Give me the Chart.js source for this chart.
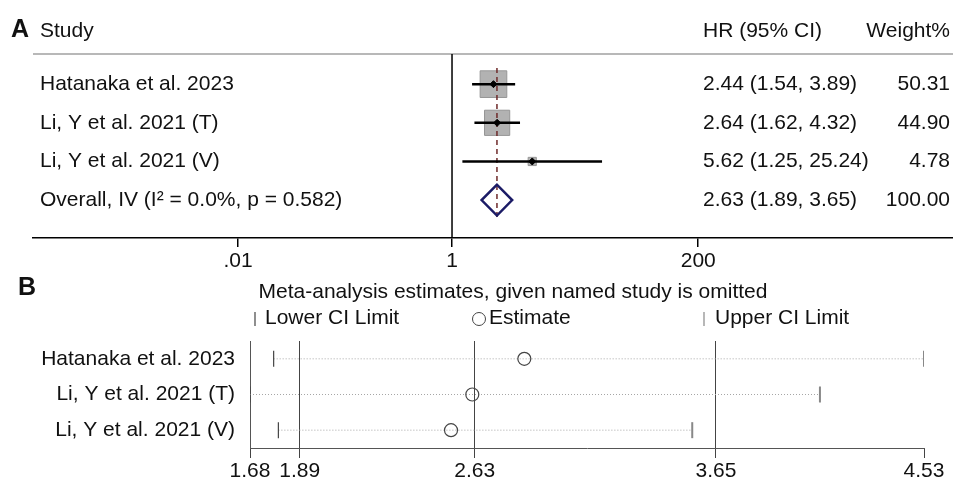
<!DOCTYPE html>
<html>
<head>
<meta charset="utf-8">
<script src="https://cdn.jsdelivr.net/npm/chart.js@4.4.0/dist/chart.umd.min.js"></script>
<style>
  body { margin: 0; background: #fff; }
  #wrap { position: relative; width: 953px; height: 480px; }
  canvas { position: absolute; left: 0; }
  #forest { top: 0; }
  #loo { top: 270px; }
</style>
</head>
<body>
<div id="wrap">
  <canvas id="forest" width="953" height="275"></canvas>
  <canvas id="loo" width="953" height="210"></canvas>
</div>
<script>
// Study-level hazard ratios
const studies = ['Hatanaka et al. 2023', 'Li, Y et al. 2021 (T)', 'Li, Y et al. 2021 (V)'];
const hr = [2.44, 2.64, 5.62];
const hrLow = [1.54, 1.62, 1.25];
const hrHigh = [3.89, 4.32, 25.24];
const weights = [50.31, 44.90, 4.78];

// Pooled (inverse variance) estimate
const overallLabel = 'Overall, IV (I\u00B2 = 0.0%, p = 0.582)';
const overallHR = 2.63;
const overallLow = 1.89;
const overallHigh = 3.65;
const overallWeight = 100.00;

const forestTicks = [0.01, 1, 200];
const forestTickLabels = ['.01', '1', '200'];

// Leave-one-out: pooled estimate when each study is dropped
const looEst = [2.84, 2.62, 2.53];
const looLow = [1.78, 1.68, 1.80];
const looHigh = [4.53, 4.09, 3.55];
const looTicks = [1.68, 1.89, 2.63, 3.65, 4.53];

const FONT = '"Liberation Sans", Arial, Helvetica, sans-serif';
Chart.defaults.font.family = FONT;
Chart.defaults.font.size = 21;
Chart.defaults.color = '#111';

const fmt = v => v.toFixed(2);
const rows = studies.map((_, i) => i + 1);
const overallRow = studies.length + 1;
const Y_MIN = 0.22, Y_MAX = 4.98;

// ---------- A: forest plot ----------
const ciLines = studies.map((s, i) => ({
  data: [{x: hrLow[i], y: rows[i]}, {x: hrHigh[i], y: rows[i]}],
  showLine: true, borderColor: '#000', borderWidth: 2.5, pointRadius: 0, order: 3
}));

const forestData = {
  datasets: [
    // weight boxes
    {
      data: hr.map((v, i) => ({x: v, y: rows[i]})),
      pointStyle: 'rect',
      pointRadius: weights.map(w => 2.66 * Math.sqrt(w)),
      backgroundColor: '#b2b2b2', borderColor: '#969696', borderWidth: 1, order: 6
    },
    // line of no effect
    {
      data: [{x: 1, y: Y_MIN}, {x: 1, y: Y_MAX}],
      showLine: true, borderColor: '#000', borderWidth: 1.5, pointRadius: 0, order: 5
    },
    // overall effect reference
    {
      data: [{x: overallHR, y: 0.58}, {x: overallHR, y: 4.44}],
      showLine: true, borderColor: '#6e2a2a', borderWidth: 1.5, borderDash: [5, 4], pointRadius: 0, order: 5
    },
    ...ciLines,
    // pooled diamond
    {
      data: [
        {x: overallLow, y: overallRow}, {x: overallHR, y: overallRow - 0.4},
        {x: overallHigh, y: overallRow}, {x: overallHR, y: overallRow + 0.4},
        {x: overallLow, y: overallRow}, {x: overallHR, y: overallRow - 0.4}
      ],
      showLine: true, borderColor: '#1b1b66', borderWidth: 2.5, pointRadius: 0,
      borderJoinStyle: 'miter', order: 2
    },
    // point estimates
    {
      data: hr.map((v, i) => ({x: v, y: rows[i]})),
      pointStyle: 'rectRot', pointRadius: 3.5,
      backgroundColor: '#000', borderColor: '#000', borderWidth: 1, order: 1
    }
  ]
};

const forestText = {
  id: 'forestText',
  beforeDatasetsDraw(chart) {
    const {ctx, chartArea} = chart;
    ctx.save();
    ctx.strokeStyle = '#a0a0a0';
    ctx.lineWidth = 1.5;
    ctx.beginPath();
    ctx.moveTo(chartArea.left, chartArea.top);
    ctx.lineTo(chartArea.right, chartArea.top);
    ctx.stroke();
    ctx.restore();
  },
  afterDraw(chart) {
    const {ctx, scales: {y}} = chart;
    ctx.save();
    ctx.fillStyle = '#111';
    ctx.textBaseline = 'middle';
    ctx.font = 'bold 25px ' + FONT;
    ctx.fillText('A', 11, 30);
    ctx.font = '21px ' + FONT;
    ctx.fillText('Study', 40, 31);
    ctx.fillText('HR (95% CI)', 703, 31);

    studies.forEach((s, i) => {
      const py = y.getPixelForValue(rows[i]);
      ctx.textAlign = 'left';
      ctx.fillText(s, 40, py);
      ctx.fillText(`${fmt(hr[i])} (${fmt(hrLow[i])}, ${fmt(hrHigh[i])})`, 703, py);
      ctx.textAlign = 'right';
      ctx.fillText(fmt(weights[i]), 950, py);
    });
    const po = y.getPixelForValue(overallRow);
    ctx.textAlign = 'left';
    ctx.fillText(overallLabel, 40, po);
    ctx.fillText(`${fmt(overallHR)} (${fmt(overallLow)}, ${fmt(overallHigh)})`, 703, po);
    ctx.textAlign = 'right';
    ctx.fillText(fmt(overallWeight), 950, po);
    ctx.fillText('Weight%', 950, 31);
    ctx.restore();
  }
};

new Chart(document.getElementById('forest'), {
  type: 'scatter',
  data: forestData,
  options: {
    responsive: false,
    animation: false,
    layout: {autoPadding: false, padding: {left: 33, top: 54, right: 0, bottom: 0}},
    plugins: {legend: {display: false}, tooltip: {enabled: false}},
    scales: {
      x: {
        type: 'logarithmic',
        min: Math.pow(10, -3.916),
        max: Math.pow(10, 4.682),
        afterBuildTicks: scale => { scale.ticks = forestTicks.map(v => ({value: v})); },
        afterFit: scale => { scale.height = 37; },
        ticks: {
          autoSkip: false, maxRotation: 0, padding: 2, color: '#111',
          callback: v => forestTickLabels[forestTicks.indexOf(v)]
        },
        grid: {drawOnChartArea: false, drawTicks: true, tickLength: 9, color: '#000', lineWidth: 1.5},
        border: {display: true, color: '#000', width: 1.5}
      },
      y: {display: false, reverse: true, min: Y_MIN, max: Y_MAX}
    }
  },
  plugins: [forestText]
});

// ---------- B: leave-one-out sensitivity ----------
const looLines = studies.map((s, i) => ({
  data: [{x: looLow[i], y: rows[i]}, {x: looHigh[i], y: rows[i]}],
  showLine: true, borderColor: '#a6a6a6', borderWidth: 1, borderDash: [1, 2], pointRadius: 0, order: 4
}));

const refLines = [overallLow, overallHR, overallHigh];

const looData = {
  datasets: [
    ...looLines,
    // lower limits
    {
      data: looLow.map((v, i) => ({x: v, y: rows[i]})),
      pointStyle: 'line', rotation: 90, pointRadius: 8, borderColor: '#444', borderWidth: 1.2, order: 2
    },
    // upper limits
    {
      data: looHigh.map((v, i) => ({x: v, y: rows[i]})),
      pointStyle: 'line', rotation: 90, pointRadius: 8, borderColor: '#888', borderWidth: 2, order: 2
    },
    // estimates
    {
      data: looEst.map((v, i) => ({x: v, y: rows[i]})),
      pointStyle: 'circle', pointRadius: 6.5, borderColor: '#444', borderWidth: 1.2,
      backgroundColor: 'rgba(0,0,0,0)', order: 1
    }
  ]
};

const looText = {
  id: 'looText',
  afterDraw(chart) {
    const {ctx} = chart;
    ctx.save();
    ctx.fillStyle = '#111';
    ctx.textBaseline = 'middle';
    ctx.font = 'bold 25px ' + FONT;
    ctx.fillText('B', 18, 18);
    ctx.font = '21px ' + FONT;
    ctx.textAlign = 'center';
    ctx.fillText('Meta-analysis estimates, given named study is omitted', 513, 22);
    ctx.textAlign = 'left';
    ctx.fillText('Lower CI Limit', 265, 48);
    ctx.fillText('Estimate', 489, 48);
    ctx.fillText('Upper CI Limit', 715, 48);
    // legend keys
    ctx.lineWidth = 1.2;
    ctx.strokeStyle = '#444';
    ctx.beginPath(); ctx.moveTo(255, 42); ctx.lineTo(255, 56); ctx.stroke();
    ctx.strokeStyle = '#888';
    ctx.beginPath(); ctx.moveTo(704, 42); ctx.lineTo(704, 56); ctx.stroke();
    ctx.strokeStyle = '#444';
    ctx.lineWidth = 1;
    ctx.beginPath();
    ctx.arc(479, 49, 6.5, 0, Math.PI * 2);
    ctx.stroke();
    ctx.restore();
  }
};

new Chart(document.getElementById('loo'), {
  type: 'scatter',
  data: looData,
  options: {
    responsive: false,
    animation: false,
    layout: {autoPadding: false, padding: {left: 0, top: 71, right: 29, bottom: 0}},
    plugins: {legend: {display: false}, tooltip: {enabled: false}},
    scales: {
      x: {
        type: 'linear',
        min: looTicks[0],
        max: looTicks[looTicks.length - 1],
        afterBuildTicks: scale => { scale.ticks = looTicks.map(v => ({value: v})); },
        afterFit: scale => { scale.height = 32; },
        ticks: {autoSkip: false, maxRotation: 0, padding: 1, color: '#111', callback: v => fmt(v)},
        grid: {
          drawOnChartArea: true, drawTicks: true, tickLength: 10, lineWidth: 1,
          color: c => (c.tick && refLines.includes(c.tick.value)) ? '#444' : 'rgba(0,0,0,0)',
          tickColor: '#444'
        },
        border: {display: true, color: '#555', width: 1}
      },
      y: {
        type: 'linear',
        reverse: true, min: 0.5, max: 3.5,
        afterBuildTicks: scale => { scale.ticks = rows.map(v => ({value: v})); },
        afterFit: scale => { scale.width = 250; },
        ticks: {padding: 15, color: '#111', callback: v => studies[v - 1]},
        grid: {display: false, drawTicks: false},
        border: {display: true, color: '#555', width: 1}
      }
    }
  },
  plugins: [looText]
});
</script>
</body>
</html>
